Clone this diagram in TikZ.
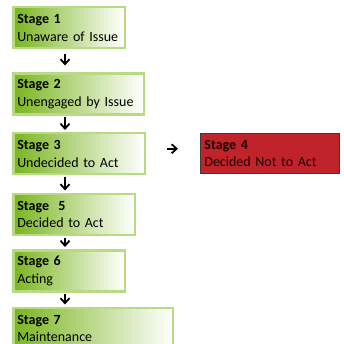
\documentclass[tikz,border=0pt]{standalone}
\usepackage{fontspec}
\setmainfont{Carlito}
\usepackage{xcolor}
\usetikzlibrary{shapes, arrows.meta, positioning}

\definecolor{stagegreen}{RGB}{122,181,30}
\definecolor{stageborder}{RGB}{184,218,130}
\definecolor{stopred}{RGB}{193,35,43}
\definecolor{stopborder}{RGB}{60,60,60}

\begin{document}
\begin{tikzpicture}[
    x=1pt, y=1pt,
    font=\fontsize{14}{17.5}\selectfont,
    stage/.style={rectangle, draw=stageborder, line width=2.5pt, left color=stagegreen, right color=white, minimum height=41pt, inner xsep=4pt, inner ysep=0pt, align=left, text width=#1},
    stop/.style={rectangle, draw=stopborder, line width=0.8pt, fill=stopred, minimum height=40pt, inner xsep=4pt, inner ysep=0pt, align=left, text width=#1, text=black!90!red},
    flow/.style={-{Straight Barb[length=5pt, width=9pt, line width=1.8pt]}, line width=2pt, shorten <=1.5pt, shorten >=2pt}
    ]

    \useasboundingbox (0,0) rectangle (344,-344);

    % Stage nodes, left column
    \node (s1) [stage=103.5pt, anchor=north west] at (12,-6) {\textbf{Stage 1}\\Unaware of Issue};
    \node (s2) [stage=122.5pt, below=23pt of s1.south west, anchor=north west] {\textbf{Stage 2}\\Unengaged by Issue};
    \node (s3) [stage=123.5pt, below=16pt of s2.south west, anchor=north west] {\textbf{Stage 3}\\Undecided to Act};
    \node (s5) [stage=113.5pt, below=17pt of s3.south west, anchor=north west] {\textbf{Stage\ \ 5}\\Decided to Act};
    \node (s6) [stage=103.5pt, below=13pt of s5.south west, anchor=north west] {\textbf{Stage 6}\\Acting};
    \node (s7) [stage=151.5pt, below=14pt of s6.south west, anchor=north west] {\textbf{Stage 7}\\Maintenance};

    % Stage 4 node, off to the right
    \node (s4) [stop=131pt, right=54pt of s3.north east, anchor=north west, yshift=-1pt] {\textbf{Stage 4}\\Decided Not to Act};

    % Arrows between stages
    \draw[flow, shorten <=5pt, shorten >=7pt] ([xshift=53pt]s1.south west) -- ([xshift=53pt]s2.north west);
    \draw[flow] ([xshift=53pt]s2.south west) -- ([xshift=53pt]s3.north west);
    \draw[flow] ([xshift=53pt]s3.south west) -- ([xshift=53pt]s5.north west);
    \draw[flow] ([xshift=53pt]s5.south west) -- ([xshift=53pt]s6.north west);
    \draw[flow] ([xshift=53pt]s6.south west) -- ([xshift=53pt]s7.north west);
    \draw[flow, shorten <=21pt, shorten >=22pt] ([yshift=5pt]s3.east) -- ([yshift=5pt]s3.east -| s4.west);
\end{tikzpicture}
\end{document}
